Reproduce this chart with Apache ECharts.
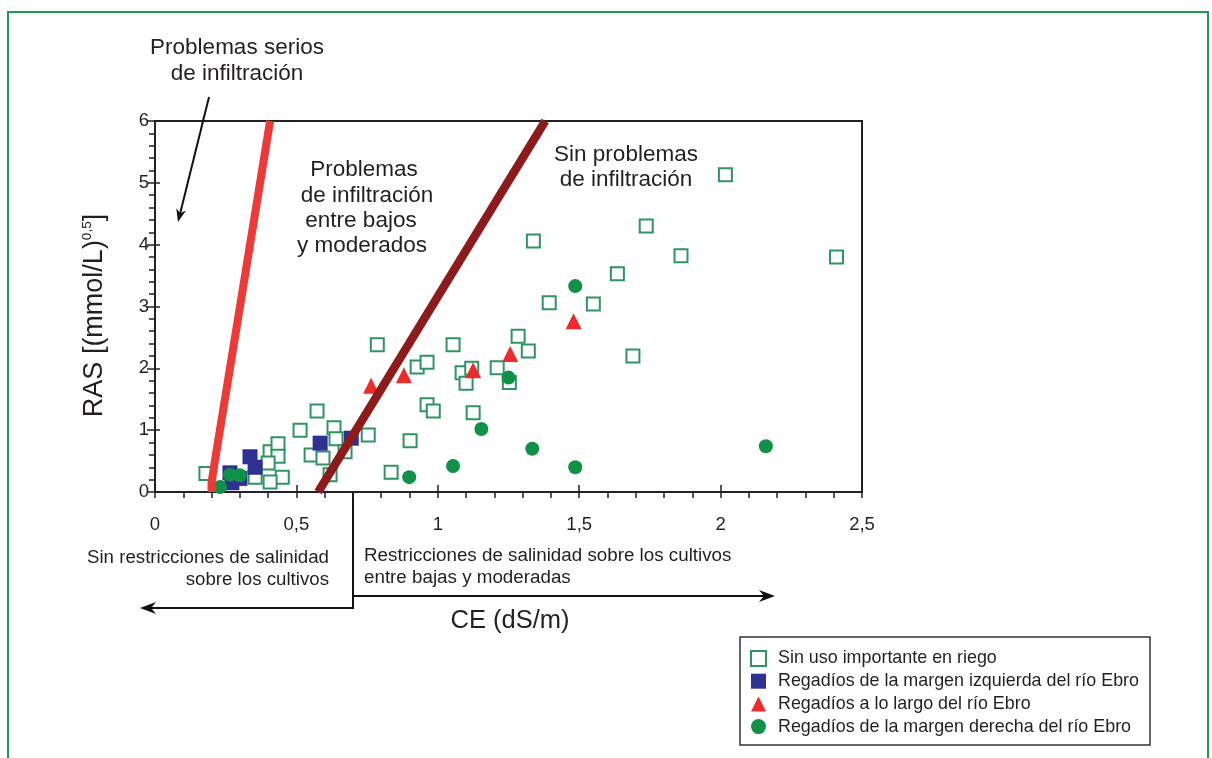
<!DOCTYPE html>
<html>
<head>
<meta charset="utf-8">
<script src="https://cdn.jsdelivr.net/npm/echarts@6/dist/echarts.min.js"></script>
<style>
html,body{margin:0;padding:0;background:#fff;}
#chart{width:1212px;height:758px;}
</style>
</head>
<body>
<div id="chart"></div>
<script>
// ---- data (CE dS/m, RAS) ----
const xTicks = [0, 0.5, 1, 1.5, 2, 2.5];
const yTicks = [0, 1, 2, 3, 4, 5, 6];
const seriesNames = [
  'Sin uso importante en riego',
  'Regadíos de la margen izquierda del río Ebro',
  'Regadíos a lo largo del río Ebro',
  'Regadíos de la margen derecha del río Ebro'
];
const sinUso = [
  [2.017,5.13],[1.737,4.30],[1.338,4.06],[1.86,3.82],[2.41,3.80],[1.635,3.53],
  [1.55,3.04],[1.394,3.06],[1.69,2.20],[1.284,2.52],[1.32,2.28],[1.253,1.77],
  [0.786,2.38],[1.054,2.38],[1.21,2.01],[0.927,2.02],[0.962,2.10],[1.086,1.93],
  [1.10,1.76],[1.12,2.0],[0.962,1.41],[0.984,1.31],[1.125,1.28],[0.754,0.92],
  [0.902,0.83],[0.835,0.32],
  [0.573,1.31],[0.513,1.00],[0.633,1.04],[0.64,0.86],[0.552,0.60],[0.594,0.55],
  [0.672,0.65],[0.619,0.28],[0.18,0.30],[0.407,0.65],[0.435,0.78],[0.435,0.58],
  [0.40,0.47],[0.45,0.24],[0.407,0.16],[0.354,0.24]
];
const margenIzquierda = [
  [0.336,0.57],[0.354,0.40],[0.265,0.31],[0.272,0.15],[0.30,0.22],[0.584,0.79],[0.694,0.87]
];
const aLoLargo = [
  [1.48,2.76],[1.256,2.23],[1.125,1.97],[0.88,1.89],[0.764,1.72]
];
const margenDerecha = [
  [1.486,3.33],[1.25,1.85],[1.154,1.02],[1.334,0.70],[1.054,0.42],[0.899,0.24],
  [1.486,0.40],[2.16,0.74],[0.265,0.28],[0.30,0.27],[0.23,0.08]
];
// boundary lines
const limiteSevero = [[0.2,0],[0.2,0.15],[0.21,0.45],[0.407,6]];
const limiteModerado = [[0.577,0],[1.38,6]];

const FONT = '"Liberation Sans", Arial, sans-serif';
const TXT = '#231f20';

function arrowHead(tx, ty, fx, fy, len, half) {
  const dx = tx - fx, dy = ty - fy, L = Math.hypot(dx, dy);
  const ux = dx / L, uy = dy / L, px = -uy, py = ux;
  const bx = tx - ux * len, by = ty - uy * len;
  const nx = tx - ux * len * 0.7, ny = ty - uy * len * 0.7;
  return [[tx, ty], [bx + px * half, by + py * half], [nx, ny], [bx - px * half, by - py * half]];
}
function txt(x, y, s, size, align) {
  return {type: 'text', x: x, y: y, style: {text: s, font: size + 'px ' + FONT, fill: TXT,
    textAlign: align || 'center', textVerticalAlign: 'middle'}};
}

const chart = echarts.init(document.getElementById('chart'));
const fmt = v => String(v).replace('.', ',');

chart.setOption({
  backgroundColor: '#fff',
  animation: false,
  grid: {left: 155, top: 121, width: 707, height: 371, show: true, borderColor: '#222', borderWidth: 2, backgroundColor: '#fff'},
  xAxis: [{
    type: 'value', min: xTicks[0], max: xTicks[xTicks.length - 1], interval: 0.5,
    axisLine: {show: true, lineStyle: {color: '#222', width: 2}},
    axisTick: {show: true, inside: true, length: 7, lineStyle: {color: '#222', width: 1.5}},
    axisLabel: {margin: 23, fontSize: 18.5, fontFamily: FONT, color: TXT, formatter: fmt},
    splitLine: {show: false}
  }, {
    type: 'value', min: 0, max: 2.5, interval: 0.1, position: 'bottom',
    axisLine: {show: false}, axisLabel: {show: false}, splitLine: {show: false},
    axisTick: {show: true, inside: false, length: 6, lineStyle: {color: '#222', width: 1.5}}
  }],
  yAxis: [{
    type: 'value', min: yTicks[0], max: yTicks[yTicks.length - 1], interval: 1,
    axisLine: {show: true, lineStyle: {color: '#222', width: 2}},
    axisTick: {show: true, inside: false, length: 8, lineStyle: {color: '#222', width: 1.5}},
    minorTick: {show: true, splitNumber: 5, length: 6, lineStyle: {color: '#222', width: 1.5}},
    axisLabel: {margin: 6, fontSize: 18.5, fontFamily: FONT, color: TXT},
    splitLine: {show: false},
    name: '{m|RAS [(mmol/L)}{s|0,5}{m|]}', nameLocation: 'middle', nameGap: 45, nameRotate: 90,
    nameTextStyle: {padding: [0, 18, 0, 0], rich: {
      m: {fontSize: 27, fontFamily: FONT, color: TXT, lineHeight: 30},
      s: {fontSize: 13.5, fontFamily: FONT, color: TXT, verticalAlign: 'top', lineHeight: 30}
    }}
  }, {
    type: 'value', min: 0, max: 6, interval: 1, position: 'left',
    axisLine: {show: false}, axisLabel: {show: false}, splitLine: {show: false},
    axisTick: {show: true, inside: true, length: 5, lineStyle: {color: '#222', width: 1.5}}
  }],
  legend: {
    orient: 'vertical', left: 740, top: 637, padding: [11, 11, 8, 10],
    itemWidth: 15, itemHeight: 15, itemGap: 1.7,
    borderColor: '#333', borderWidth: 1.5, backgroundColor: '#fff',
    textStyle: {fontSize: 17.9, lineHeight: 21, fontFamily: FONT, color: TXT, padding: [0, 0, 0, 7]},
    data: seriesNames
  },
  series: [
    {name: seriesNames[0], type: 'scatter', data: sinUso, symbol: 'rect', symbolSize: 13,
      itemStyle: {color: '#fff', borderColor: '#2e9562', borderWidth: 2, opacity: 1}, z: 2},
    {name: seriesNames[1], type: 'scatter', data: margenIzquierda, symbol: 'rect', symbolSize: 15,
      itemStyle: {color: '#2e3192', opacity: 1}, z: 3},
    {name: seriesNames[2], type: 'scatter', data: aLoLargo, symbol: 'triangle', symbolSize: 16,
      itemStyle: {color: '#ed2b2b', opacity: 1}, z: 4},
    {name: seriesNames[3], type: 'scatter', data: margenDerecha, symbol: 'circle', symbolSize: 14,
      itemStyle: {color: '#0f9148', opacity: 1}, z: 5},
    {type: 'line', data: limiteSevero, showSymbol: false, symbol: 'none', z: 6,
      lineStyle: {color: '#ee3a36', width: 8, cap: 'butt'}, silent: true},
    {type: 'line', data: limiteModerado, showSymbol: false, symbol: 'none', z: 6,
      lineStyle: {color: '#8e1b1b', width: 8.5, cap: 'butt'}, silent: true}
  ],
  graphic: [
    {type: 'rect', shape: {x: 8, y: 12, width: 1200, height: 770}, style: {fill: 'none', stroke: '#1e9a52', lineWidth: 2}},
    txt(237, 48, 'Problemas serios', 22.5),
    txt(237, 74, 'de infiltración', 22.5),
    {type: 'polyline', shape: {points: [[209, 97], [180, 214]]}, style: {stroke: '#111', lineWidth: 2}},
    {type: 'polygon', shape: {points: arrowHead(178, 222, 209, 97, 13, 5)}, style: {fill: '#111'}},
    txt(364, 170, 'Problemas', 22.5),
    txt(367, 196, 'de infiltración', 22.5),
    txt(361, 221, 'entre bajos', 22.5),
    txt(362, 246, 'y moderados', 22.5),
    txt(626, 155, 'Sin problemas', 22.5),
    txt(626, 180, 'de infiltración', 22.5),
    txt(329, 558, 'Sin restricciones de salinidad', 18.7, 'right'),
    txt(329, 580, 'sobre los cultivos', 18.7, 'right'),
    txt(364, 556, 'Restricciones de salinidad sobre los cultivos', 18.8, 'left'),
    txt(364, 578, 'entre bajas y moderadas', 18.8, 'left'),
    txt(510, 621, 'CE (dS/m)', 25.5),
    {type: 'polyline', shape: {points: [[353, 493], [353, 608], [150, 608]]}, style: {stroke: '#111', lineWidth: 2, fill: 'none'}},
    {type: 'polygon', shape: {points: arrowHead(140, 608, 353, 608, 16, 6)}, style: {fill: '#111'}},
    {type: 'polyline', shape: {points: [[353, 596], [765, 596]]}, style: {stroke: '#111', lineWidth: 2}},
    {type: 'polygon', shape: {points: arrowHead(775, 596, 353, 596, 16, 6)}, style: {fill: '#111'}}
  ]
});
</script>
</body>
</html>
